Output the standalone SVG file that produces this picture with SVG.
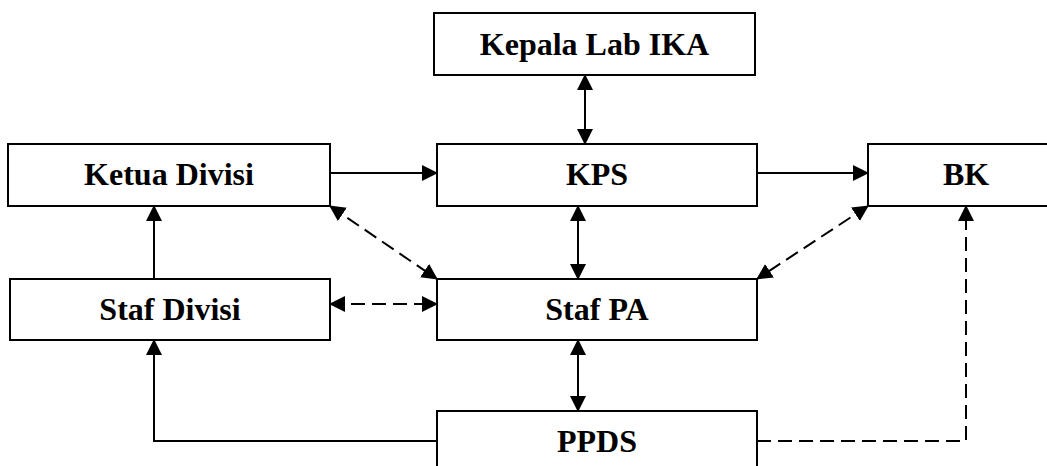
<svg xmlns="http://www.w3.org/2000/svg" width="1047" height="466" viewBox="0 0 1047 466">
<style>
.box{fill:#fff;stroke:#000;stroke-width:2}
.lbl{font-family:"Liberation Serif","Times New Roman",serif;font-weight:bold;font-size:32px;text-anchor:middle;fill:#000}
.c{fill:none;stroke:#000;stroke-width:2}
.d{stroke-dasharray:14 7}
</style>
<defs>
<marker id="ah" markerUnits="userSpaceOnUse" markerWidth="17" markerHeight="17" refX="15" refY="8" orient="auto-start-reverse" viewBox="0 0 17 17">
<path d="M0,0 L16,8 L0,16 z" fill="#000"/>
</marker>
</defs>
<g id="connectors">
<line class="c" x1="585" y1="75" x2="585" y2="144" marker-start="url(#ah)" marker-end="url(#ah)"/>
<line class="c" x1="330" y1="173" x2="437" y2="173" marker-end="url(#ah)"/>
<line class="c" x1="757" y1="173" x2="868" y2="173" marker-end="url(#ah)"/>
<line class="c" x1="578" y1="206" x2="578" y2="279" marker-start="url(#ah)" marker-end="url(#ah)"/>
<line class="c d" x1="330" y1="206" x2="437" y2="279" marker-start="url(#ah)" marker-end="url(#ah)"/>
<line class="c d" x1="868" y1="206" x2="757" y2="279" marker-start="url(#ah)" marker-end="url(#ah)"/>
<line class="c d" x1="330" y1="304" x2="437" y2="304" marker-start="url(#ah)" marker-end="url(#ah)"/>
<line class="c" x1="154" y1="279" x2="154" y2="206" marker-end="url(#ah)"/>
<line class="c" x1="578" y1="340" x2="578" y2="411" marker-start="url(#ah)" marker-end="url(#ah)"/>
<polyline class="c" points="437,441 154,441 154,340" marker-end="url(#ah)"/>
<polyline class="c d" points="757,441 966,441 966,206" marker-end="url(#ah)"/>
</g>
<g id="kepala"><rect class="box" x="434" y="13" width="321" height="62"/><text class="lbl" x="594.5" y="55">Kepala Lab IKA</text></g>
<g id="ketua"><rect class="box" x="8" y="144" width="322" height="62"/><text class="lbl" x="169" y="185">Ketua Divisi</text></g>
<g id="kps"><rect class="box" x="437" y="144" width="320" height="62"/><text class="lbl" x="597" y="185">KPS</text></g>
<g id="bk"><rect class="box" x="868" y="144" width="196" height="62"/><text class="lbl" x="966" y="185">BK</text></g>
<g id="stafdivisi"><rect class="box" x="10" y="279" width="320" height="61"/><text class="lbl" x="170" y="320">Staf Divisi</text></g>
<g id="stafpa"><rect class="box" x="437" y="279" width="320" height="61"/><text class="lbl" x="597" y="320">Staf PA</text></g>
<g id="ppds"><rect class="box" x="437" y="411" width="320" height="62"/><text class="lbl" x="597" y="452">PPDS</text></g>
</svg>
